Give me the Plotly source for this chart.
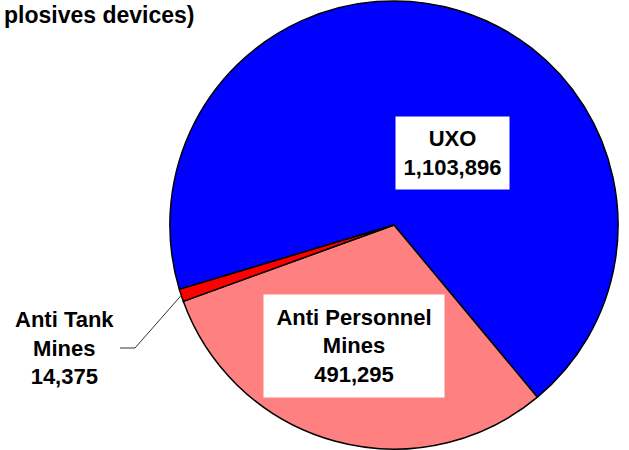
import math
import plotly.graph_objects as go

labels = ["UXO", "Anti Personnel Mines", "Anti Tank Mines"]
values = [1103896, 491295, 14375]
colors = ["#0000FF", "#FF8080", "#FF0000"]
label_lines = [["UXO"], ["Anti Personnel", "Mines"], ["Anti Tank", "Mines"]]
title_text = "plosives devices)"

W, H = 629, 450
rotation = 253.3
dom_x = [0.2687, 0.984]
dom_y = [0.002, 0.998]

FONT = "Liberation Sans, Arial, sans-serif"
FS = 22

fig = go.Figure(go.Pie(
    labels=labels, values=values, sort=False, direction="clockwise",
    rotation=rotation,
    marker=dict(colors=colors, line=dict(color="black", width=1.5)),
    textinfo="none", hoverinfo="label+value", showlegend=False,
    domain=dict(x=dom_x, y=dom_y),
))

def lbl(i):
    return "<b>" + "<br>".join(label_lines[i] + [f"{values[i]:,}"]) + "</b>"

common = dict(xref="paper", yref="paper", showarrow=False,
              xanchor="center", yanchor="middle",
              font=dict(family=FONT, size=FS, color="black"))
ann = [
    dict(x=452.5 / W, y=1 - 153 / H, text=lbl(0), bgcolor="white",
         width=113, height=72, borderpad=0, **common),
    dict(x=354 / W, y=1 - 346 / H, text=lbl(1), bgcolor="white",
         width=180, height=102, borderpad=0, **common),
    dict(x=64 / W, y=1 - 348 / H, text=lbl(2), **common),
    dict(x=2 / W, y=1 - 15 / H, xref="paper", yref="paper",
         xanchor="left", yanchor="middle", showarrow=False,
         text="<b>" + title_text + "</b>",
         font=dict(family=FONT, size=FS + 1, color="black")),
]

# leader line from Anti Tank slice edge (computed from data) to its label
total = sum(values)
cx = (dom_x[0] + dom_x[1]) / 2 * W
cy = H / 2
r = min((dom_x[1] - dom_x[0]) * W, (dom_y[1] - dom_y[0]) * H) / 2
start = rotation + sum(values[:2]) / total * 360
mid = math.radians(start + values[2] / total * 180)
px, py = cx + r * math.sin(mid), cy - r * math.cos(mid)
path = f"M {px/W},{1-py/H} L {135/W},{1-348/H} L {120/W},{1-348/H}"
fig.add_shape(type="path", xref="paper", yref="paper", path=path,
              line=dict(color="#333333", width=1))

fig.update_layout(
    width=W, height=H, margin=dict(l=0, r=0, t=0, b=0),
    paper_bgcolor="white", plot_bgcolor="white", annotations=ann,
)
fig.write_html("out.html", config={"displayModeBar": False},
               post_script="document.body.style.margin='0px';document.body.style.padding='0px';")
